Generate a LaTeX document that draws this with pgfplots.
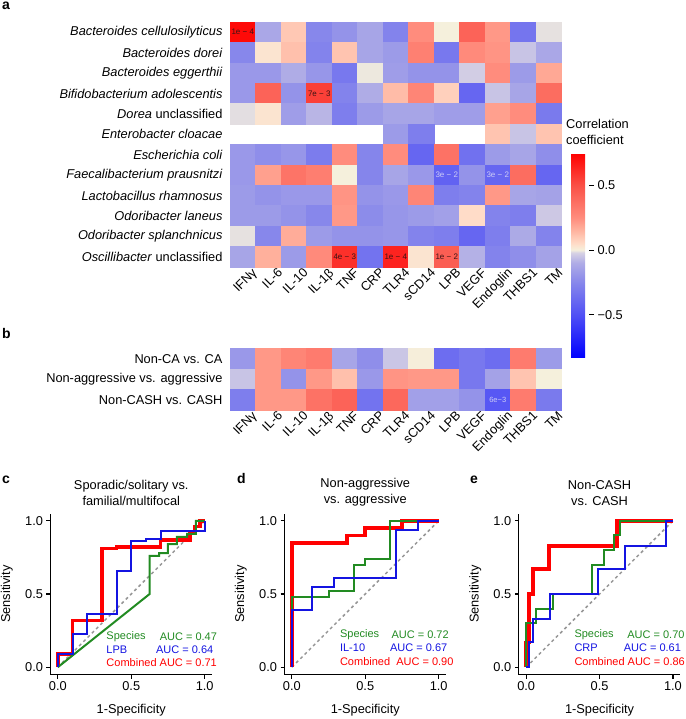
\documentclass[border=0pt]{standalone}
\usepackage{fontspec}
\setmainfont{Liberation Sans}
\usepackage{pgfplots}
\usepackage{pgfplotstable}
\pgfplotsset{compat=1.18}

\definecolor{rocgreen}{RGB}{34,139,34}
\definecolor{rocblue}{RGB}{20,20,225}
\definecolor{rocred}{RGB}{255,0,0}
\definecolor{diaggray}{RGB}{150,150,150}
\definecolor{pdark}{RGB}{60,20,20}
\definecolor{plight}{RGB}{205,205,245}

% correlation coefficients, x = marker column, y = row (top = 0)
\pgfplotstableread{
x y c
0 0 0.72
1 0 -0.12
2 0 0.10
3 0 -0.25
4 0 -0.20
5 0 -0.13
6 0 -0.27
7 0 0.25
8 0 0.00
9 0 0.42
10 0 0.22
11 0 -0.33
12 0 -0.01
0 1 -0.25
1 1 0.03
2 1 0.12
3 1 -0.27
4 1 0.11
5 1 -0.13
6 1 -0.17
7 1 0.30
8 1 -0.32
9 1 0.26
10 1 0.23
11 1 -0.05
12 1 -0.12
0 2 -0.18
1 2 -0.18
2 2 -0.10
3 2 -0.19
4 2 -0.32
5 2 -0.005
6 2 -0.16
7 2 -0.20
8 2 -0.20
9 2 -0.03
10 2 0.25
11 2 -0.17
12 2 0.18
0 3 -0.18
1 3 0.42
2 3 -0.20
3 3 0.55
4 3 -0.27
5 3 -0.10
6 3 0.13
7 3 0.28
8 3 0.08
9 3 -0.40
10 3 -0.05
11 3 -0.13
12 3 0.38
0 4 -0.012
1 4 0.03
2 4 -0.16
3 4 -0.08
4 4 -0.29
5 4 -0.17
6 4 -0.13
7 4 -0.13
8 4 -0.16
9 4 -0.16
10 4 0.20
11 4 0.25
12 4 -0.31
6 5 -0.17
7 5 -0.29
10 5 0.11
11 5 -0.05
12 5 0.11
0 6 -0.18
1 6 -0.22
2 6 -0.19
3 6 -0.30
4 6 0.25
5 6 -0.26
6 6 0.25
7 6 -0.40
8 6 0.36
9 6 -0.35
10 6 -0.17
11 6 -0.13
12 6 -0.22
0 7 -0.18
1 7 0.20
2 7 0.35
3 7 0.31
4 7 0.00
5 7 -0.26
6 7 -0.13
7 7 -0.18
8 7 -0.42
9 7 -0.20
10 7 -0.40
11 7 0.38
12 7 -0.40
0 8 -0.17
1 8 -0.20
2 8 -0.18
3 8 -0.18
4 8 0.23
5 8 -0.20
6 8 -0.18
7 8 0.28
8 8 -0.29
9 8 -0.27
10 8 0.22
11 8 -0.13
12 8 -0.14
0 9 -0.17
1 9 -0.17
2 9 -0.20
3 9 -0.25
4 9 0.22
5 9 -0.23
6 9 -0.19
7 9 -0.17
8 9 -0.15
9 9 0.05
10 9 -0.27
11 9 -0.29
12 9 -0.04
0 10 -0.01
1 10 -0.25
2 10 0.17
3 10 -0.17
4 10 -0.20
5 10 -0.20
6 10 -0.19
7 10 -0.27
8 10 -0.29
9 10 -0.40
10 10 -0.29
11 10 -0.11
12 10 -0.27
0 11 -0.13
1 11 0.16
2 11 -0.17
3 11 0.26
4 11 0.60
5 11 -0.34
6 11 0.64
7 11 0.03
8 11 0.44
9 11 -0.09
10 11 -0.27
11 11 -0.22
12 11 -0.14
}\species

\pgfplotstableread{
x y c
0 0 -0.18
1 0 0.22
2 0 0.28
3 0 0.32
4 0 -0.13
5 0 -0.22
6 0 -0.045
7 0 0.005
8 0 -0.37
9 0 -0.32
10 0 -0.37
11 0 0.32
12 0 -0.17
0 1 -0.05
1 1 0.22
2 1 -0.20
3 1 0.22
4 1 0.12
5 1 -0.18
6 1 0.23
7 1 0.22
8 1 0.22
9 1 -0.32
10 1 -0.14
11 1 0.11
12 1 0.00
0 2 -0.29
1 2 0.22
2 2 0.22
3 2 0.36
4 2 0.42
5 2 -0.34
6 2 0.40
7 2 -0.15
8 2 -0.15
9 2 -0.20
10 2 -0.47
11 2 0.32
12 2 -0.31
}\groups

\tikzset{
  pv/.style={font=\fontsize{8}{9}\selectfont, inner sep=0pt},
  leg/.style={font=\fontsize{11}{12}\selectfont, inner sep=0pt},
}

\pgfplotsset{
  colormap={corr}{rgb255(0pt)=(0,0,255); rgb255(335pt)=(80,80,245);
    rgb255(585pt)=(135,135,235); rgb255(735pt)=(175,172,230);
    rgb255(815pt)=(215,210,228); rgb255(835pt)=(245,240,220);
    rgb255(885pt)=(255,220,200); rgb255(985pt)=(255,180,160);
    rgb255(1085pt)=(255,140,125); rgb255(1335pt)=(250,80,70);
    rgb255(1585pt)=(255,0,0)},
  hm/.style={
    scale only axis, width=331.5pt,
    xmin=-0.5, xmax=12.5, y dir=reverse,
    axis line style={draw=none}, tick style={draw=none},
    major tick length=0pt,
    xtick={0,...,12},
    xticklabels={IFNγ,IL-6,IL-10,IL-1β,TNF,CRP,TLR4,sCD14,LPB,VEGF,Endoglin,THBS1,TM},
    xticklabel style={rotate=45, anchor=north east, inner sep=0pt, xshift=6pt, yshift=-6pt},
    yticklabel style={xshift=-4pt},
    colormap name=corr,
    point meta min=-0.835, point meta max=0.75,
    clip=false,
  },
  % transparent copy of a heatmap axis, used to write the p-values on top
  hmtop/.style={
    scale only axis, width=331.5pt, hide axis,
    xmin=-0.5, xmax=12.5, y dir=reverse, clip=false,
  },
  hmtiles/.style={scatter, only marks, mark=square*,
    point meta=explicit,
    scatter/use mapped color={draw=mapped color, fill=mapped color},
    mark size=10.3pt, mark options={xscale=1.249}},
  roc/.style={
    scale only axis, width=161.5pt, height=161pt,
    xmin=-0.05, xmax=1.05, ymin=-0.05, ymax=1.05,
    axis lines*=left,
    axis line style={line width=1.3pt, black},
    xtick={0,0.5,1}, ytick={0,0.5,1},
    xticklabels={0.0,0.5,1.0}, yticklabels={0.0,0.5,1.0},
    tick align=outside, major tick length=4pt,
    tick style={black, line width=1.2pt},
    xlabel={1-Specificity}, ylabel={Sensitivity},
    xlabel style={at={(axis description cs:0.5,-0.22)}, anchor=center},
    ylabel style={at={(axis description cs:-0.27,0.5)}, anchor=center},
    title style={align=center, at={(axis description cs:0.5,1)}, anchor=south, yshift=-2pt},
    clip=false,
  },
}

\begin{document}
\begin{tikzpicture}[font=\fontsize{12.8}{16}\selectfont]
\useasboundingbox (0,0) rectangle (685pt,-719pt);

% panel labels
\node[anchor=base west, font=\bfseries\fontsize{14}{16}\selectfont, inner sep=0pt] at (2pt,-10pt) {a};
\node[anchor=base west, font=\bfseries\fontsize{14}{16}\selectfont, inner sep=0pt] at (2pt,-338pt) {b};
\node[anchor=base west, font=\bfseries\fontsize{14}{16}\selectfont, inner sep=0pt] at (2pt,-483pt) {c};
\node[anchor=base west, font=\bfseries\fontsize{14}{16}\selectfont, inner sep=0pt] at (237pt,-483pt) {d};
\node[anchor=base west, font=\bfseries\fontsize{14}{16}\selectfont, inner sep=0pt] at (470pt,-483pt) {e};

% a: species vs markers
\begin{axis}[hm, at={(230pt,-22pt)}, anchor=north west, height=245pt,
    ymin=-0.5, ymax=11.5, ytick={0,...,11},
    yticklabels={\textit{Bacteroides cellulosilyticus},\textit{Bacteroides dorei},
      \textit{Bacteroides eggerthii},\textit{Bifidobacterium adolescentis},
      \textit{Dorea} unclassified,\textit{Enterobacter cloacae},\textit{Escherichia coli},
      \textit{Faecalibacterium prausnitzi},\textit{Lactobacillus rhamnosus},
      \textit{Odoribacter laneus},\textit{Odoribacter splanchnicus},
      \textit{Oscillibacter} unclassified},
    colorbar,
    colorbar style={
      at={(1.0287,0.4653)}, anchor=north west,
      scale only axis, width=18pt, height=205pt,
      ytick={-0.5,0,0.5}, yticklabels={−0.5,0.0,0.5},
      ytick pos=right,
      axis line style={draw=none},
      tick style={black, line width=0.8pt},
      major tick length=5pt, tick align=outside,
      title={Correlation\\coefficient},
      title style={align=left, at={(0,1)}, anchor=south west, xshift=-6pt, yshift=1pt, inner sep=1pt},
    },
]
\addplot[hmtiles] table[x=x, y=y, meta=c] {\species};
\end{axis}

\begin{axis}[hmtop, at={(230pt,-22pt)}, anchor=north west, height=245pt,
    ymin=-0.5, ymax=11.5]
\node[pv, pdark] at (axis cs:0,0) {1e − 4};
\node[pv, pdark] at (axis cs:3,3) {7e − 3};
\node[pv, plight] at (axis cs:8,7) {3e − 2};
\node[pv, plight] at (axis cs:10,7) {3e − 2};
\node[pv, pdark] at (axis cs:4,11) {4e − 3};
\node[pv, pdark] at (axis cs:6,11) {1e − 4};
\node[pv, pdark] at (axis cs:8,11) {1e − 2};
\end{axis}

% b: groups vs markers
\begin{axis}[hm, at={(230pt,-348.5pt)}, anchor=north west, height=61.5pt,
    ymin=-0.5, ymax=2.5, ytick={0,1,2},
    yticklabels={Non-CA vs. CA,Non-aggressive vs. aggressive,Non-CASH vs. CASH},
]
\addplot[hmtiles, mark size=10.35pt] table[x=x, y=y, meta=c] {\groups};
\end{axis}

\begin{axis}[hmtop, at={(230pt,-348.5pt)}, anchor=north west, height=61.5pt,
    ymin=-0.5, ymax=2.5]
\node[pv, plight, font=\fontsize{7.5}{9}\selectfont] at (axis cs:10,2) {6e−3};
\end{axis}

% c
\begin{axis}[roc, at={(50.5pt,-513.5pt)}, anchor=north west,
    title={Sporadic/solitary vs.\\familial/multifocal}]
\addplot[diaggray, dashed, line width=1.5pt] coordinates {(0,0) (1,1)};
\addplot[rocred, line width=3.6pt] coordinates {
(0,0) (0,0.09) (0.1,0.09) (0.1,0.32) (0.3,0.32) (0.3,0.81) (0.4,0.81) (0.4,0.82)
(0.7,0.82) (0.7,0.87) (0.9,0.87) (0.9,0.92) (0.93,0.92) (0.93,0.96) (0.97,0.96) (0.97,1) (1,1)};
\addplot[rocgreen, line width=2pt] coordinates {
(0,0) (0.625,0.5) (0.625,0.76) (0.69,0.76) (0.69,0.78) (0.75,0.78) (0.75,0.84)
(0.81,0.84) (0.81,0.89) (0.88,0.89) (0.88,0.91) (0.94,0.91) (0.94,1) (1,1)};
\addplot[rocblue, line width=2pt] coordinates {
(0,0) (0,0.09) (0.1,0.09) (0.1,0.23) (0.2,0.23) (0.2,0.36) (0.4,0.36) (0.4,0.66)
(0.5,0.66) (0.5,0.86) (0.6,0.86) (0.6,0.875) (0.7,0.875) (0.7,0.93) (1,0.93) (1,1)};
\node[leg, rocgreen, anchor=west] at (axis cs:0.33,0.21) {Species};
\node[leg, rocgreen, anchor=east] at (axis cs:1.085,0.21) {AUC = 0.47};
\node[leg, rocblue, anchor=west] at (axis cs:0.33,0.12) {LPB};
\node[leg, rocblue, anchor=east] at (axis cs:1.06,0.12) {AUC = 0.64};
\node[leg, rocred, anchor=west] at (axis cs:0.33,0.03) {Combined AUC = 0.71};
\end{axis}

% d
\begin{axis}[roc, at={(284.5pt,-513.5pt)}, anchor=north west,
    title={Non-aggressive\\vs. aggressive}]
\addplot[diaggray, dashed, line width=1.5pt] coordinates {(0,0) (1,1)};
\addplot[rocred, line width=3.6pt] coordinates {
(0,0) (0,0.85) (0.375,0.85) (0.375,0.9) (0.5,0.9) (0.5,0.95) (0.75,0.95) (0.75,1) (1,1)};
\addplot[rocgreen, line width=2pt] coordinates {
(0,0) (0,0.48) (0.25,0.48) (0.25,0.52) (0.42,0.52) (0.42,0.7) (0.5,0.7) (0.5,0.74)
(0.67,0.74) (0.67,1) (1,1)};
\addplot[rocblue, line width=2pt] coordinates {
(0,0) (0,0.39) (0.14,0.39) (0.14,0.55) (0.29,0.55) (0.29,0.61) (0.71,0.61) (0.71,0.94)
(0.86,0.94) (0.86,1) (1,1)};
\node[leg, rocgreen, anchor=west] at (axis cs:0.327,0.225) {Species};
\node[leg, rocgreen, anchor=east] at (axis cs:1.07,0.225) {AUC = 0.72};
\node[leg, rocblue, anchor=west] at (axis cs:0.327,0.13) {IL-10};
\node[leg, rocblue, anchor=east] at (axis cs:1.06,0.13) {AUC = 0.67};
\node[leg, rocred, anchor=west] at (axis cs:0.327,0.04) {Combined\ \ AUC = 0.90};
\end{axis}

% e
\begin{axis}[roc, at={(518.8pt,-513.5pt)}, anchor=north west,
    title={Non-CASH\\vs. CASH}]
\addplot[diaggray, dashed, line width=1.5pt] coordinates {(0,0) (1,1)};
\addplot[rocred, line width=3.6pt] coordinates {
(0,0) (0,0.17) (0.02,0.17) (0.02,0.5) (0.045,0.5) (0.045,0.67) (0.155,0.67) (0.155,0.83)
(0.62,0.83) (0.62,1) (1,1)};
\addplot[rocgreen, line width=2pt] coordinates {
(0,0) (0,0.3) (0.07,0.3) (0.07,0.4) (0.18,0.4) (0.18,0.5) (0.45,0.5) (0.45,0.7)
(0.53,0.7) (0.53,0.8) (0.6,0.8) (0.6,0.9) (0.64,0.9) (0.64,1) (1,1)};
\addplot[rocblue, line width=2pt] coordinates {
(0,0) (0.02,0) (0.02,0.17) (0.045,0.17) (0.045,0.33) (0.16,0.33) (0.16,0.5) (0.49,0.5)
(0.49,0.67) (0.67,0.67) (0.67,0.83) (0.955,0.83) (0.955,1) (1,1)};
\node[leg, rocgreen, anchor=west] at (axis cs:0.328,0.225) {Species};
\node[leg, rocgreen, anchor=east] at (axis cs:1.08,0.225) {AUC = 0.70};
\node[leg, rocblue, anchor=west] at (axis cs:0.328,0.13) {CRP};
\node[leg, rocblue, anchor=east] at (axis cs:1.056,0.13) {AUC = 0.61};
\node[leg, rocred, anchor=west] at (axis cs:0.328,0.04) {Combined AUC = 0.86};
\end{axis}
\end{tikzpicture}
\end{document}
